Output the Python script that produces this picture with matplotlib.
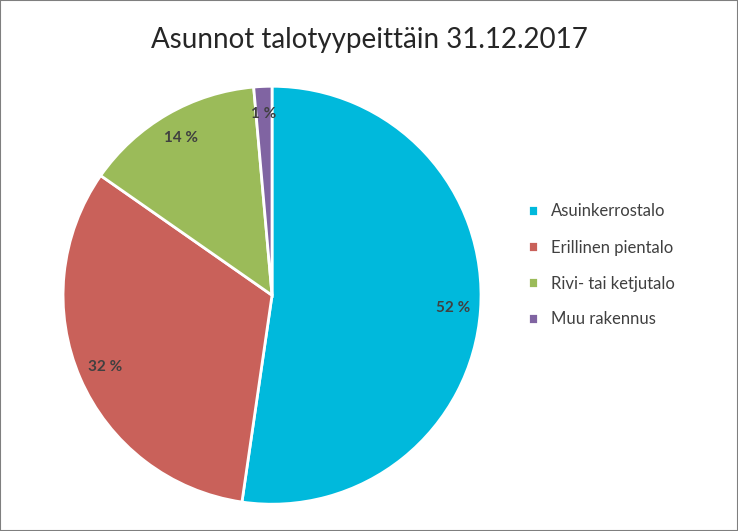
import matplotlib.pyplot as plt
from matplotlib.patches import Rectangle
import numpy as np

plt.rcParams["font.family"] = "Lato"

categories = ["Asuinkerrostalo", "Erillinen pientalo", "Rivi- tai ketjutalo", "Muu rakennus"]
values = [52.3, 32.4, 13.9, 1.4]
pct_labels = ["52 %", "32 %", "14 %", "1 %"]
colors = ["#00B9DC", "#C9615A", "#9BBB59", "#8064A2"]

fig = plt.figure(figsize=(7.38, 5.31), dpi=100)
fig.patches.append(Rectangle((0, 0), 1, 1, transform=fig.transFigure,
                             fill=False, edgecolor="#7f7f7f", linewidth=1.5))

ax = fig.add_axes([0.3686 - 0.286, 0.444 - 0.3975, 0.572, 0.795])
wedges, _ = ax.pie(values, colors=colors, startangle=90, counterclock=False,
                   wedgeprops=dict(edgecolor="white", linewidth=2))
ax.set_xlim(-1.01, 1.01)
ax.set_ylim(-1.01, 1.01)
ax.set_aspect("equal")

ang = 90
for w, lab, v in zip(wedges, pct_labels, values):
    mid = np.deg2rad(ang - v * 3.6 / 2)
    ang -= v * 3.6
    r = 0.87
    ax.text(r * np.cos(mid), r * np.sin(mid), lab, ha="center", va="center",
            fontsize=11, fontweight="bold", color="#404040")

fig.text(0.5, 0.925, "Asunnot talotyypeittäin 31.12.2017", ha="center", va="center",
         fontsize=20, color="#262626")

fig.legend(wedges, categories, loc="center left", bbox_to_anchor=(0.695, 0.50),
           frameon=False, fontsize=12, handlelength=0.6, handleheight=0.6,
           labelspacing=1.2, labelcolor="#404040")

fig.savefig("out.png", dpi=100)
